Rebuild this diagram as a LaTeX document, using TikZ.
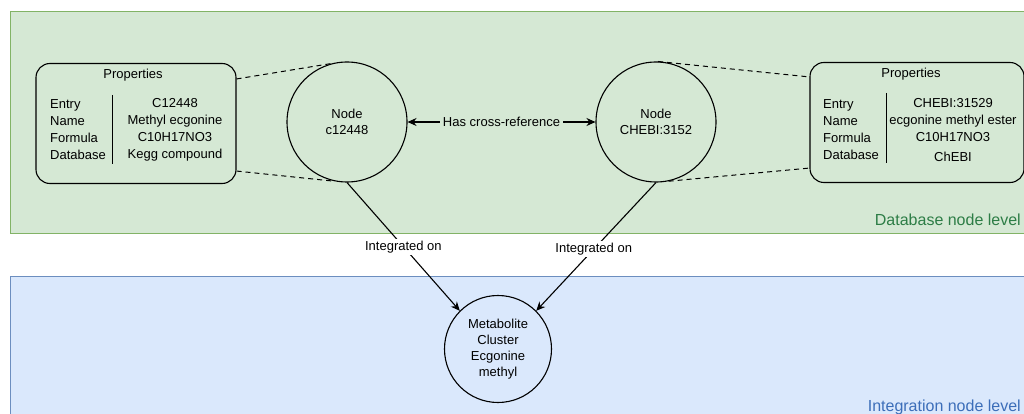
\documentclass[tikz,border=0pt]{standalone}
\usepackage{fontspec}
\setmainfont{Liberation Sans}
\usetikzlibrary{arrows.meta,calc}
\definecolor{gfill}{HTML}{D5E8D4}
\definecolor{gline}{HTML}{82B366}
\definecolor{bfill}{HTML}{DAE8FC}
\definecolor{bline}{HTML}{6C8EBF}
\definecolor{gtext}{RGB}{45,125,70}
\definecolor{btext}{RGB}{60,110,185}
\tikzset{
  txt/.style={font=\fontsize{13}{17}\selectfont, inner sep=1pt, text=black},
  circ/.style={circle, draw=black, line width=1.1pt, minimum size=#1, inner sep=0pt, align=center, font=\fontsize{13}{16}\selectfont},
  propbox/.style={draw=black, line width=1.1pt, rounded corners=14pt, minimum width=200pt, minimum height=120pt},
  dash line/.style={dashed, dash pattern=on 5pt off 4pt, line width=1pt},
  conn/.style={line width=1.1pt, -{Stealth[length=9pt,width=8pt]}},
  level/.style={font=\fontsize{16}{18}\selectfont, anchor=base east, inner sep=0pt},
}
\begin{document}
\begin{tikzpicture}[x=1pt,y=-1pt]
\useasboundingbox (0,0) rectangle (1024,414);
\clip (0,0) rectangle (1024,414);
\fill[white] (0,0) rectangle (1024,414);
% levels
\path[fill=gfill, draw=gline, line width=1pt] (10,12) rectangle (1030,233);
\path[fill=bfill, draw=bline, line width=1pt] (10,276) rectangle (1030,420);
\node[level, text=gtext] (lvl1) at (1021,225) {Database node level};
\node[level, text=btext] (lvl2) at (1021,411) {Integration node level};

% left properties
\node[propbox] (propL) at (136,123.5) {};
\node[txt] (propLt) at (133,75) {Properties};
\node[txt, align=left, anchor=west] (propLk) at (49,130) {Entry\\Name\\Formula\\Database};
\node[txt, align=center] (propLv) at (175,130) {C12448\\Methyl ecgonine\\C10H17NO3\\Kegg compound};
\draw[line width=1pt] (112,95) -- (112,164);

% right properties
\node[propbox, minimum width=214pt] (propR) at (917,122.5) {};
\node[txt] (propRt) at (911,74) {Properties};
\node[txt, align=left, anchor=west] (propRk) at (822,130) {Entry\\Name\\Formula\\Database};
\node[txt, align=center] (propRv) at (953,130) {CHEBI:31529\\ecgonine methyl ester\\C10H17NO3\\[3pt]ChEBI};
\draw[line width=1pt] (886,93) -- (886,163);

% circles
\node[circ=120pt] (c1) at (347,122) {Node\\c12448};
\node[circ=120pt] (c2) at (656,122) {Node\\CHEBI:3152};
\node[circ=107pt] (m) at (498,349) {Metabolite\\Cluster\\Ecgonine\\methyl};

% dashed links
\draw[dash line] ([yshift=-16pt]propL.north east) -- (c1.105);
\draw[dash line] ([yshift=13pt]propL.south east) -- (c1.258);
\draw[dash line] (c2.88) -- ([yshift=-15pt]propR.north west);
\draw[dash line] (c2.282) -- ([yshift=15pt]propR.south west);

% cross reference
\draw[line width=1.1pt, {Stealth[length=9pt,width=8pt]}-{Stealth[length=9pt,width=8pt]}] (c1) -- node[txt, fill=gfill, inner sep=3pt] (xref) {Has cross-reference} (c2);

% integrated on
\draw[conn] (c1.south) -- node[txt, fill=white, inner sep=2pt, pos=0.5] (int1) {Integrated on} (m.135);
\draw[conn] (c2.south) -- node[txt, fill=white, inner sep=2pt, pos=0.52] (int2) {Integrated on} (m.45);
\end{tikzpicture}
\end{document}
